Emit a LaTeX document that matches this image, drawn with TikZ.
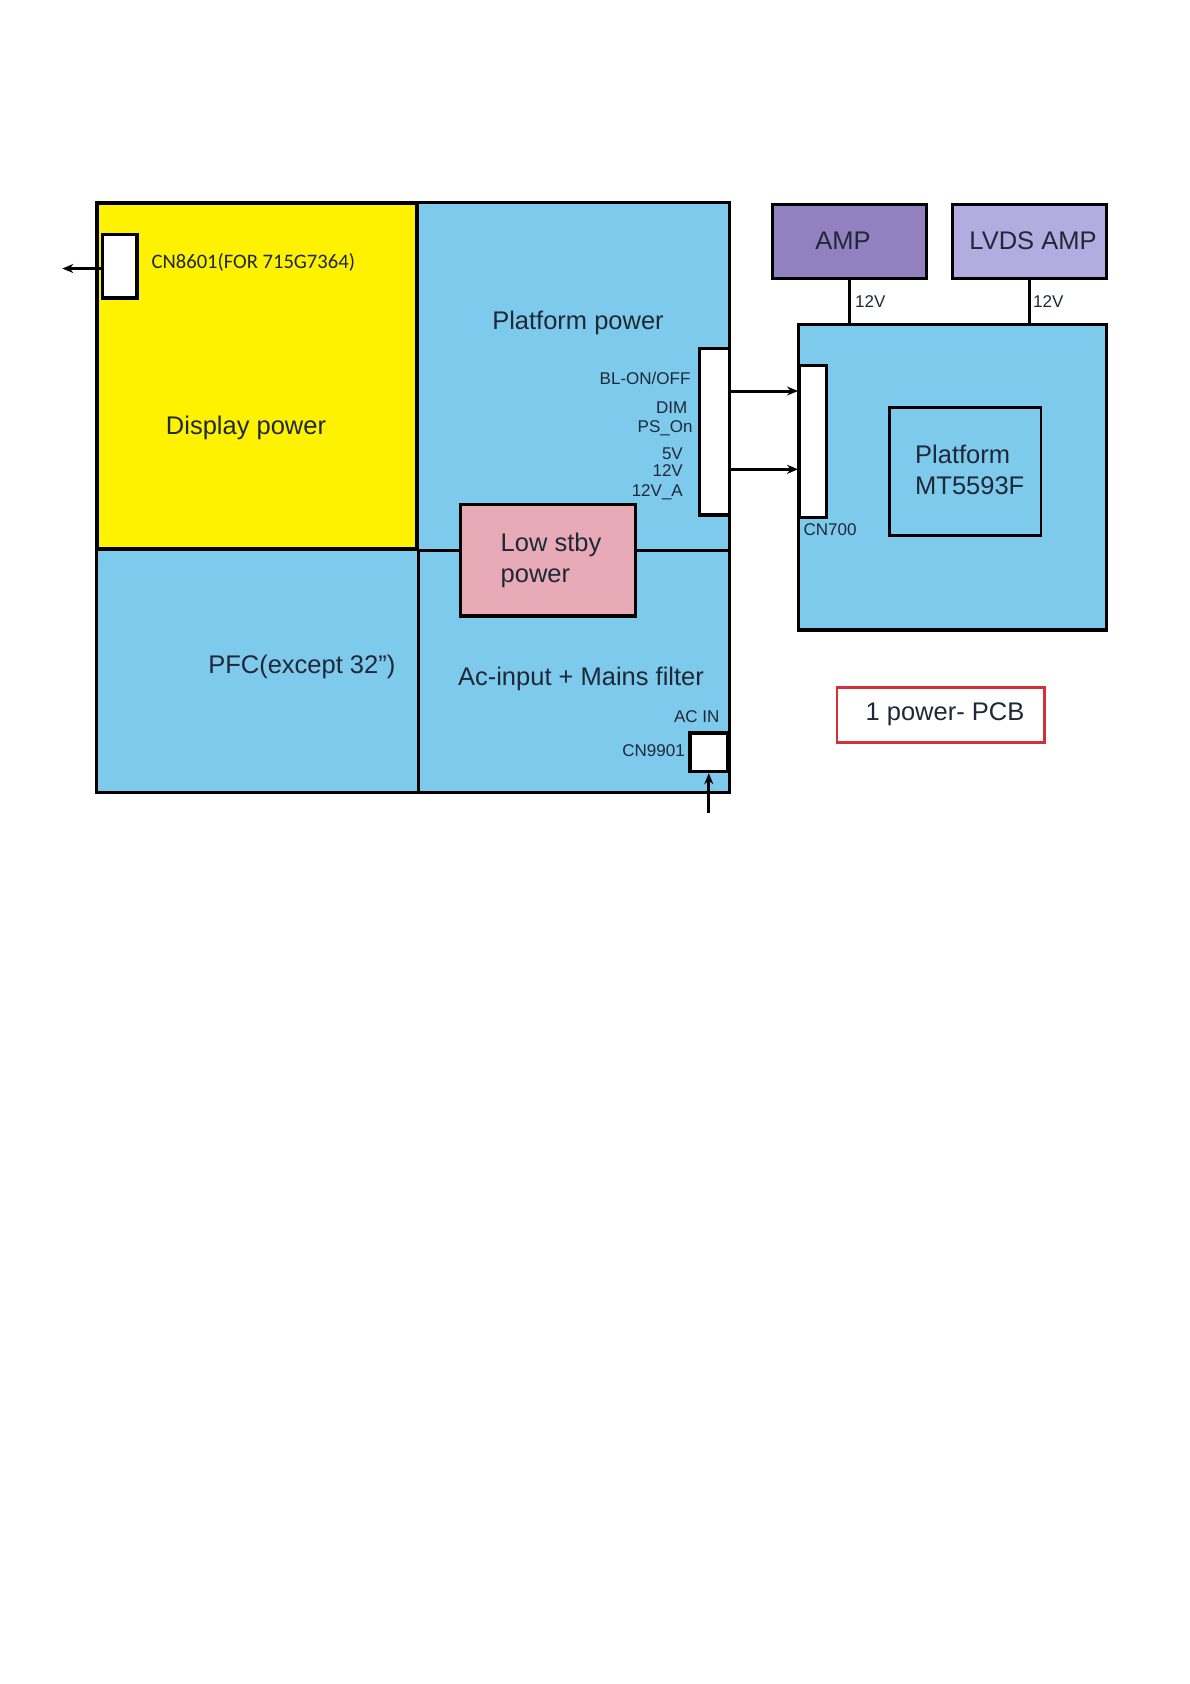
\documentclass[tikz,border=0pt]{standalone}
\usepackage{fontspec}
\setmainfont{Liberation Sans}
\newfontfamily\carlitofont{Carlito}
\usetikzlibrary{arrows.meta}
\definecolor{pcbblue}{RGB}{125,202,236}
\definecolor{dispyellow}{RGB}{255,242,0}
\definecolor{stbypink}{RGB}{232,170,182}
\definecolor{amppurple}{RGB}{146,128,192}
\definecolor{lvdslav}{RGB}{178,172,224}
\definecolor{txt}{RGB}{30,40,55}
\definecolor{pcbred}{RGB}{210,50,55}
\begin{document}
\begin{tikzpicture}[x=1pt,y=-1pt,
  box/.style={draw=black, line width=3.2pt, anchor=north west, inner sep=0pt},
  big/.style={font=\fontsize{25.5}{31}\selectfont, text=txt, inner sep=0pt},
  small/.style={font=\fontsize{17}{20}\selectfont, text=txt, inner sep=0pt},
  arr/.style={line width=3pt, -{Stealth[length=11pt,width=9pt]}},
  wire/.style={line width=3pt}]
\useasboundingbox[fill=white] (0,0) rectangle (1190,1684);

% main power board
\node[box, fill=pcbblue, minimum width=633.7pt, minimum height=589.7pt] (main) at (94.5,200.8) {};
\node[box, fill=dispyellow, line width=4pt, minimum width=320.1pt, minimum height=345.9pt] (disp) at (94.5,200.8) {};
\draw[wire] (disp.south east) -- (disp.south east |- main.south);
\draw[wire] (disp.south east) -- (disp.south east -| main.east);
\node[box, fill=stbypink, minimum width=175.1pt, minimum height=111.7pt] (stby) at (458.6,502.6) {};
\node[box, fill=white, minimum width=30.2pt, minimum height=166.5pt] (ppconn) at (698,346.9) {};
\node[box, fill=white, minimum width=34.3pt, minimum height=63.4pt] (cn8601) at (101,233) {};
\node[box, fill=white, minimum width=37.6pt, minimum height=38.6pt] (cn9901) at (688.4,731.4) {};

% platform board
\node[box, fill=pcbblue, minimum width=308pt, minimum height=305.3pt] (board) at (797,323) {};
\node[box, fill=white, minimum width=26.8pt, minimum height=151.5pt] (cn700) at (798,364) {};
\node[box, fill=pcbblue, line width=2.8pt, minimum width=151.6pt, minimum height=127.8pt] (mt) at (888,406) {};
\node[box, fill=amppurple, minimum width=153.7pt, minimum height=74pt] (amp) at (771,203) {};
\node[box, fill=lvdslav, minimum width=154.5pt, minimum height=74pt] (lvds) at (950.5,203) {};
\node[box, draw=pcbred, fill=white, line width=2.8pt, minimum width=207.4pt, minimum height=54.7pt] (pcb) at (835.6,686.3) {};

% connectors
\draw[wire] (amp.south) -- (amp.south |- board.north);
\draw[wire] (lvds.south) -- (lvds.south |- board.north);
\coordinate (sigA) at (0,391);
\coordinate (sigB) at (0,469.3);
\draw[arr] (ppconn.east |- sigA) -- (cn700.west |- sigA);
\draw[arr] (ppconn.east |- sigB) -- (cn700.west |- sigB);
\coordinate (cnout) at (62.3,268.5);
\draw[arr] (cn8601.west |- cnout) -- (cnout);
\coordinate (acsrc) at (707.8,813);
\draw[arr] (cn9901.south |- acsrc) -- (cn9901.south);

% texts
\node[font=\carlitofont\fontsize{20.6}{24}\selectfont, text=txt, inner sep=0pt, anchor=west] (t8601) at (151.4,262) {CN8601(FOR 715G7364)};
\node[big] (tdisp) at (246,427.5) {Display power};
\node[big] (tpp) at (578,323) {Platform power};
\node[big] (tpfc) at (301.8,667) {PFC(except 32”)};
\node[big] (tac) at (581,679) {Ac-input + Mains filter};
\node[big, align=left, anchor=west] (tstby) at (500.5,560.5) {Low stby\\power};
\node[small, anchor=east] (l1) at (690.6,378) {BL-ON/OFF};
\node[small, anchor=east] (l2) at (687.4,408) {DIM};
\node[small, anchor=east] (l3) at (692.7,428.5) {PS\_On};
\node[small, anchor=east] (l4) at (683,454) {5V};
\node[small, anchor=east] (l5) at (683,470.4) {12V};
\node[small, anchor=east] (l6) at (683,492) {12V\_A};
\node[small, anchor=east] (lacin) at (719.6,716.4) {AC IN};
\node[small, anchor=east] (l9901) at (685,750.7) {CN9901};
\node[big] (tamp) at (843,240.6) {AMP};
\node[big] (tlvds) at (1033,240.6) {LVDS AMP};
\node[small, anchor=west] (v1) at (855,301.8) {12V};
\node[small, anchor=west] (v2) at (1033,301.8) {12V};
\node[small, anchor=west] (t700) at (803.4,529.5) {CN700};
\node[big, align=left, anchor=west] (tmt) at (915,470) {Platform\\MT5593F};
\node[big] (tpcb) at (945,714) {1 power- PCB};
\end{tikzpicture}
\end{document}
